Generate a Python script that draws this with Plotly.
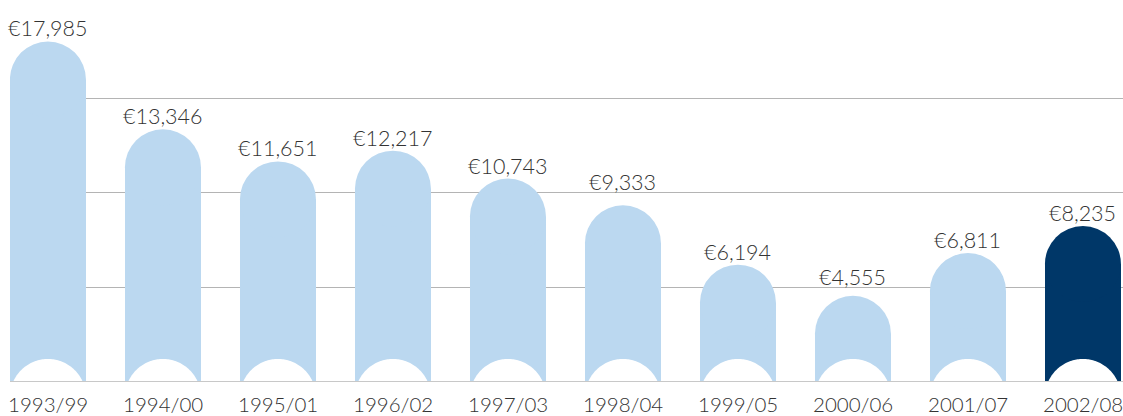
import plotly.graph_objects as go
import numpy as np

# ---- data ----
categories = ["1993/99", "1994/00", "1995/01", "1996/02", "1997/03",
              "1998/04", "1999/05", "2000/06", "2001/07", "2002/08"]
values = [17985, 13346, 11651, 12217, 10743, 9333, 6194, 4555, 6811, 8235]
highlight = [False, False, False, False, False, False, False, False, False, True]
grid_values = [5000, 10000, 15000]

# ---- style ----
LIGHT = "#BBD8F0"
DARK = "#003768"
TEXT = "#333333"
FONT = "Lato"

W, H = 1123, 416
ml, mr, mt, mb = 10, 0, 10, 34
plot_w = W - ml - mr
plot_h = H - mt - mb
px_per_cat = 115.0
x_range = [-0.33, -0.33 + plot_w / px_per_cat]
px_per_val = 0.018933
y_max = plot_h / px_per_val

bar_w = 0.661
r_px = bar_w * px_per_cat / 2.0          # radius in pixels
cap_y = r_px / px_per_val                # radius in data units (y)
cut_d_px = 15.0                          # circle centre below baseline (px)

idx = list(range(len(categories)))
colors = [DARK if h else LIGHT for h in highlight]

fig = go.Figure()
fig.add_trace(go.Bar(
    x=idx, y=[v - cap_y for v in values], width=bar_w,
    marker=dict(color=colors, line=dict(width=0)),
    hoverinfo="skip", showlegend=False,
))

shapes = []
# rounded tops
for i, v, c in zip(idx, values, colors):
    shapes.append(dict(type="circle", xref="x", yref="y",
                       x0=i - bar_w / 2, x1=i + bar_w / 2,
                       y0=v - 2 * cap_y, y1=v,
                       fillcolor=c, line=dict(width=0), layer="above"))
# white semicircular cut-outs at the bottom
half = np.sqrt(r_px ** 2 - cut_d_px ** 2)
for i in idx:
    xs_px = np.linspace(-half, half, 60)
    ys_px = np.sqrt(np.maximum(r_px ** 2 - xs_px ** 2, 0)) - cut_d_px
    pts = [(i + xp / px_per_cat, max(yp, 0) / px_per_val) for xp, yp in zip(xs_px, ys_px)]
    path = "M {},{} ".format(i - half / px_per_cat, -2 / px_per_val)
    path += " ".join("L {:.5f},{:.3f}".format(a, b) for a, b in pts)
    path += " L {},{} Z".format(i + half / px_per_cat, -2 / px_per_val)
    shapes.append(dict(type="path", xref="x", yref="y", path=path,
                       fillcolor="white", line=dict(width=0), layer="above"))
# baseline
shapes.append(dict(type="line", xref="paper", yref="y", x0=0, x1=1, y0=0, y1=0,
                   line=dict(color="#c8c8c8", width=2), layer="above"))

value_font = dict(family=FONT, size=21.5, color=TEXT, weight=300)
cat_font = dict(family=FONT, size=20.5, color=TEXT, weight=300)
annotations = []
for i, v in zip(idx, values):
    # default: digits sit ~6px above the bar top; lift label above a gridline it would cross
    top_px = v * px_per_val
    shift = -2.0
    for g in grid_values:
        g_px = g * px_per_val
        if top_px + 4 <= g_px <= top_px + 23:
            shift += (g_px + 3.3) - (top_px + 6)
    annotations.append(dict(x=i, y=v, xref="x", yref="y", text="€{:,}".format(v),
                            showarrow=False, yanchor="bottom", yshift=shift,
                            font=value_font))
for i, c in zip(idx, categories):
    annotations.append(dict(x=i, y=0, xref="x", yref="y", text=c,
                            showarrow=False, yanchor="top", yshift=-9,
                            borderpad=0, font=cat_font))

fig.update_layout(
    width=W, height=H,
    margin=dict(l=ml, r=mr, t=mt, b=mb, pad=0),
    paper_bgcolor="white", plot_bgcolor="white",
    shapes=shapes, annotations=annotations,
    bargap=0,
    xaxis=dict(range=x_range, tickmode="array", tickvals=idx,
               showticklabels=False, automargin=False,
               showgrid=False, zeroline=False, showline=False, ticks="",
               fixedrange=True),
    yaxis=dict(range=[0, y_max], tickmode="array", tickvals=grid_values,
               showticklabels=False, showgrid=True, gridcolor="#b4b4b4", gridwidth=1,
               zeroline=False, showline=False, automargin=False, fixedrange=True),
)

fig.write_html("out.html")
